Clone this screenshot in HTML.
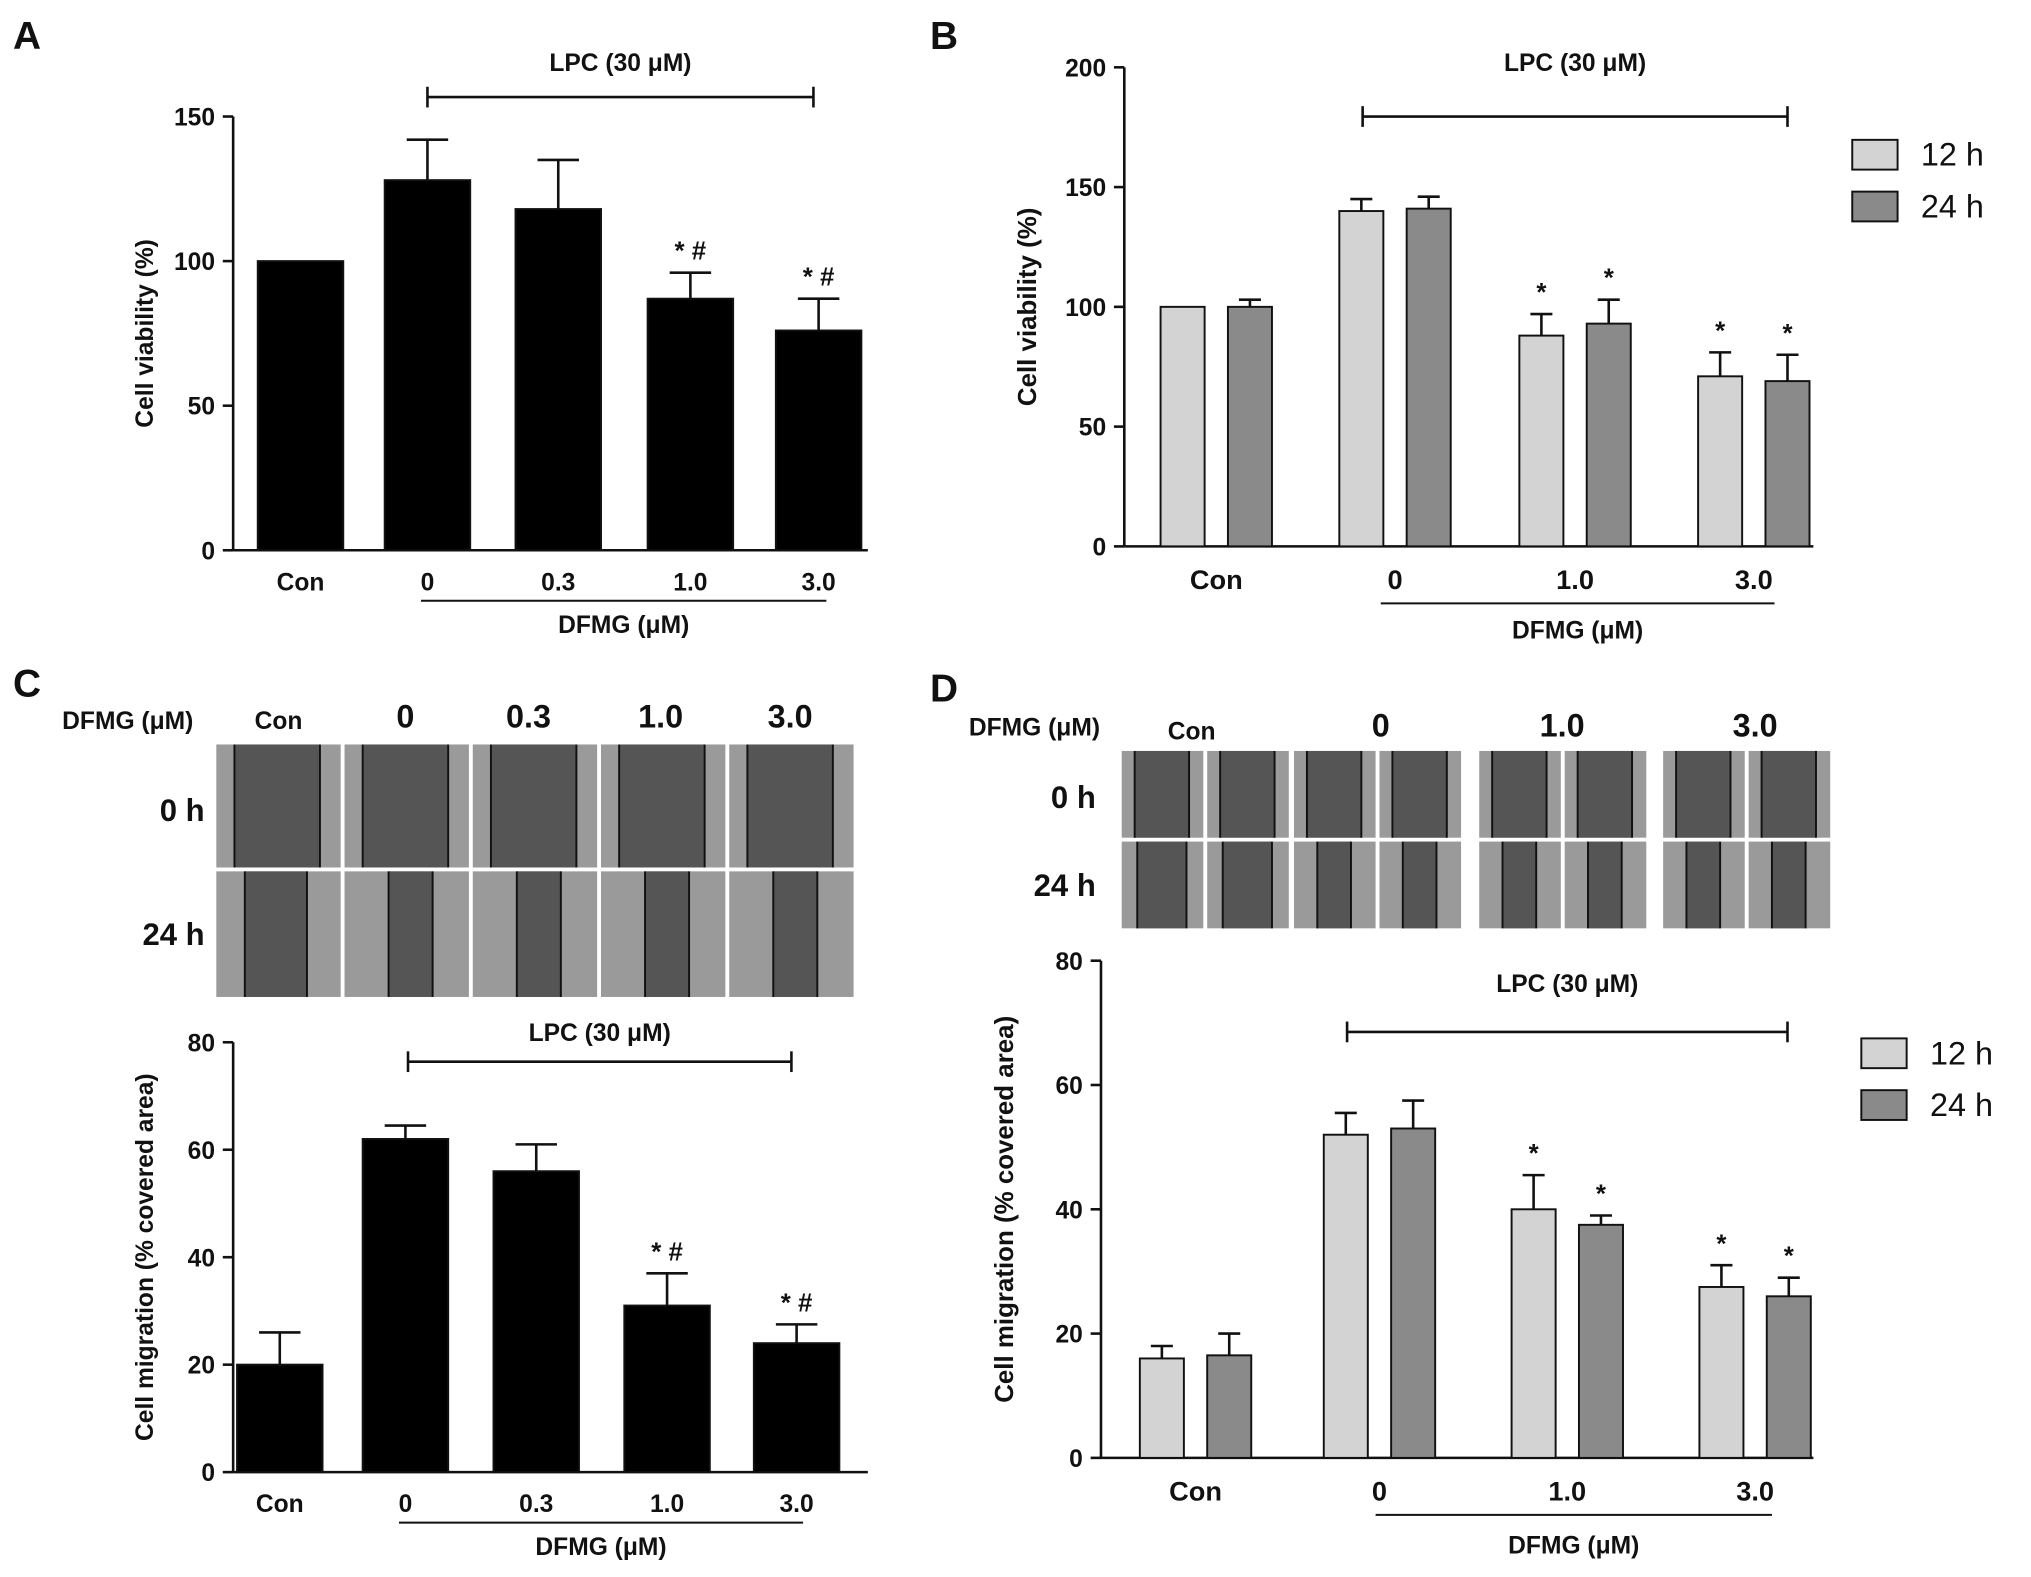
<!DOCTYPE html>
<html><head><meta charset="utf-8"><style>
html,body{margin:0;padding:0;background:#fff;}
svg{display:block;}
text{font-family:"Liberation Sans",Arial,sans-serif;font-weight:bold;fill:#111;}
</style></head><body>
<svg id="fig" width="2031" height="1577" viewBox="0 0 1568 1218" preserveAspectRatio="none" xmlns="http://www.w3.org/2000/svg"></svg>
<script>
// ---- data ----
const catsA = ["Con","0","0.3","1.0","3.0"];
const valsA = [100,128,118,87,76];
const errA  = [0,14,17,9,11];
const sigA  = ["","","","* #","* #"];
const ticksA = [0,50,100,150];

const catsB = ["Con","0","1.0","3.0"];
const valsB12 = [100,140,88,71];
const valsB24 = [100,141,93,69];
const errB12 = [0,5,9,10];
const errB24 = [3,5,10,11];
const sigB12 = ["","","*","*"];
const sigB24 = ["","","*","*"];
const ticksB = [0,50,100,150,200];

const catsC = ["Con","0","0.3","1.0","3.0"];
const valsC = [20,62,56,31,24];
const errC  = [6,2.5,5,6,3.5];
const sigC  = ["","","","* #","* #"];
const ticksC = [0,20,40,60,80];

const catsD = ["Con","0","1.0","3.0"];
const valsD12 = [16,52,40,27.5];
const valsD24 = [16.5,53,37.5,26];
const errD12 = [2,3.5,5.5,3.5];
const errD24 = [3.5,4.5,1.5,3];
const sigD12 = ["","","*","*"];
const sigD24 = ["","","*","*"];
const ticksD = [0,20,40,60,80];

const NS="http://www.w3.org/2000/svg";
const svg=document.getElementById('fig');
function el(tag,attrs,parent){const e=document.createElementNS(NS,tag);for(const k in attrs)e.setAttribute(k,attrs[k]);(parent||svg).appendChild(e);return e;}
function txt(x,y,s,size,anchor,parent,rot){const t=el('text',{x:x,y:y,'font-size':size,'text-anchor':anchor||'middle'},parent);if(rot)t.setAttribute('transform','rotate(-90 '+x+' '+y+')');t.textContent=s;return t;}
function line(x1,y1,x2,y2,p,w){return el('line',{x1,y1,x2,y2,stroke:'#111','stroke-width':w||2},p);}

function axis(g,ax){
  const y=v=>ax.y0-(v-0)/(ax.ymax)*(ax.y0-ax.ytop);
  line(ax.x,ax.y0,ax.x,ax.ytop,g);
  line(ax.x,ax.y0,ax.xend,ax.y0,g);
  ax.ticks.forEach(t=>{line(ax.x-8,y(t),ax.x,y(t),g);txt(ax.x-14,y(t)+7,String(t),19,'end',g);});
  return y;
}
function bar(g,cx,w,v,e,sg,y,fill,name){
  const b=el('rect',{x:cx-w/2,y:y(v),width:w,height:y(0)-y(v),fill:fill,stroke:'#111','stroke-width':1.5},g);
  
  
  if(e>0){const c=Math.min(16,w/4);line(cx,y(v),cx,y(v+e),g);line(cx-c,y(v+e),cx+c,y(v+e),g);}
  if(sg)txt(cx,y(v+e)-10,sg,20,'middle',g);
}

function panelSingle(name,ax,cats,vals,errs,sigs,xs,w,ylabel){
  const g=el('g',{});
  const y=axis(g,ax);
  cats.forEach((c,i)=>{bar(g,xs[i],w,vals[i],errs[i],sigs[i],y,'#000','bar-'+c);txt(xs[i],ax.y0+31,c,19,'middle',g);});
  txt(ax.x-62,(ax.y0+ax.ytop)/2,ylabel,19,'middle',g,true);
  return g;
}
function panelPair(name,ax,cats,v12,v24,e12,e24,s12,s24,xs,w,ylabel){
  const g=el('g',{});
  const y=axis(g,ax);
  cats.forEach((c,i)=>{
    bar(g,xs[i]-26,w,v12[i],e12[i],s12[i],y,'#d3d3d3','bar-12h-'+c);
    bar(g,xs[i]+26,w,v24[i],e24[i],s24[i],y,'#8a8a8a','bar-24h-'+c);
    txt(xs[i],ax.y0+33,c,21,'middle',g);
  });
  txt(ax.x-68,(ax.y0+ax.ytop)/2,ylabel,20,'middle',g,true);
  return g;
}
function legend(x,y){
  const g=el('g',{});
  el('rect',{x:x,y:y,width:35,height:23,fill:'#d3d3d3',stroke:'#111','stroke-width':1.5},g);
  txt(x+53,y+20,'12 h',25,'start',g).style.fontWeight='normal';
  el('rect',{x:x,y:y+40,width:35,height:23,fill:'#8a8a8a',stroke:'#111','stroke-width':1.5},g);
  txt(x+53,y+60,'24 h',25,'start',g).style.fontWeight='normal';
}
function bracket(x1,x2,y,label,ly){
  line(x1,y,x2,y);line(x1,y-8,x1,y+8);line(x2,y-8,x2,y+8);
  txt((x1+x2)/2,ly,label,19,'middle');
}
function under(x1,x2,y,label,ly){line(x1,y,x2,y,null,1.5);txt((x1+x2)/2,ly,label,19,'middle');}

// Panel A
panelSingle('panel-a-chart',{x:180,y0:425,ytop:90,ymax:150,xend:670,ticks:ticksA},catsA,valsA,errA,sigA,[232,330,431,533,632],66,'Cell viability  (%)');
bracket(330,628,75,'LPC (30 μM)',55);under(325,638,464,'DFMG  (μM)',489);
txt(10,38,'A',30,'start');
// Panel B
panelPair('panel-b-chart',{x:868,y0:422,ytop:52,ymax:200,xend:1400,ticks:ticksB},catsB,valsB12,valsB24,errB12,errB24,sigB12,sigB24,[939,1077,1216,1354],34,'Cell viability  (%)');
bracket(1052,1380,90,'LPC (30 μM)',55);under(1066,1370,466,'DFMG  (μM)',493);
legend(1430,108);
txt(718,38,'B',30,'start');
// Panel C
txt(10,538,'C',30,'start');
txt(48,563,'DFMG  (μM)',19,'start');
const hdrC=[['Con',215,19],['0',313,25],['0.3',408,25],['1.0',510,25],['3.0',610,25]];
hdrC.forEach(h=>txt(h[1],h[2]==19?563:562,h[0],h[2],'middle'));
txt(158,634,'0 h',24,'end');txt(158,730,'24 h',24,'end');
function micro(x,y,w,h,gx,gw,name){
  const g=el('g',{});
  el('rect',{x,y,width:w,height:h,fill:'#9a9a9a'},g);
  el('rect',{x:x+gx,y,width:gw,height:h,fill:'#555'},g);
  line(x+gx,y,x+gx,y+h,g,1.5);line(x+gx+gw,y,x+gx+gw,y+h,g,1.5);
}
[167,266,365,464,563].forEach((x,i)=>{
  micro(x,575,96,95,14,66,'wound-0h-c'+i);
  micro(x,673,96,97,i==0?22:34,i==0?48:34,'wound-24h-c'+i);
});
panelSingle('panel-c-chart',{x:180,y0:1137,ytop:805,ymax:80,xend:670,ticks:ticksC},catsC,valsC,errC,sigC,[216,313,414,515,615],66,'Cell migration  (% covered area)');
bracket(315,611,820,'LPC (30 μM)',804);under(308,620,1176,'DFMG  (μM)',1201);
// Panel D
txt(718,542,'D',30,'start');
txt(748,568,'DFMG  (μM)',19,'start');
txt(920,571,'Con',19,'middle');txt(1066,569,'0',25,'middle');txt(1206,569,'1.0',25,'middle');txt(1355,569,'3.0',25,'middle');
txt(846,624,'0 h',24,'end');txt(846,692,'24 h',24,'end');
[866,932,999,1065,1142,1208,1284,1350].forEach((x,i)=>{
  micro(x,580,63,67,10,42,'wound-0h-d'+i);
  micro(x,650,63,67,i<2?12:18,i<2?38:26,'wound-24h-d'+i);
});
panelPair('panel-d-chart',{x:850,y0:1126,ytop:742,ymax:80,xend:1400,ticks:ticksD},catsD,valsD12,valsD24,errD12,errD24,sigD12,sigD24,[923,1065,1210,1355],34,'Cell migration  (% covered area)');
bracket(1040,1380,797,'LPC (30 μM)',766);under(1062,1368,1170,'DFMG  (μM)',1200);
legend(1437,802);
</script>
</body></html>
